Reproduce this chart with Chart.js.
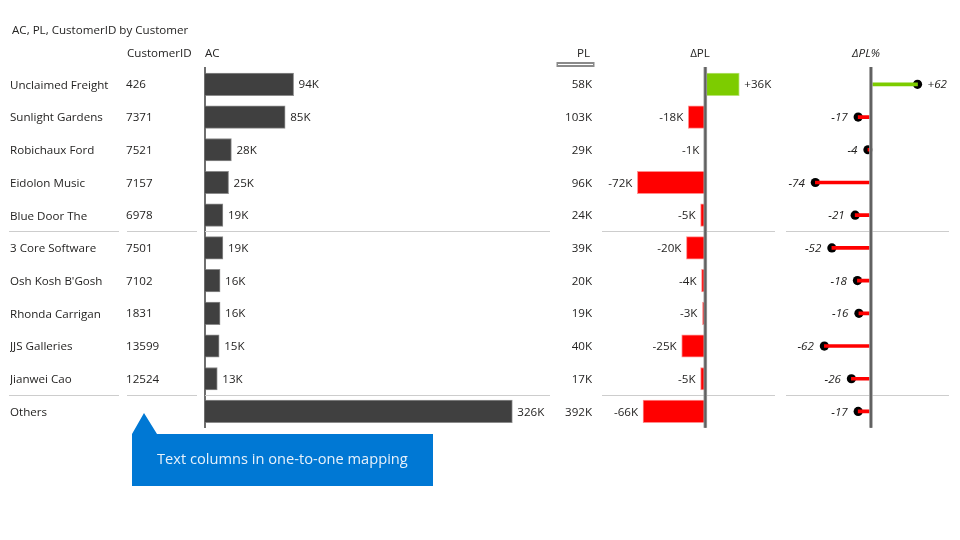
<!DOCTYPE html>
<html><head><meta charset="utf-8">
<style>html,body{margin:0;padding:0;background:#fff}canvas{display:block}</style>
<script src="https://cdn.jsdelivr.net/npm/chart.js@4"></script>
</head><body>
<canvas id="c" width="960" height="540"></canvas>
<script>
const customers = ["Unclaimed Freight","Sunlight Gardens","Robichaux Ford","Eidolon Music","Blue Door The","3 Core Software","Osh Kosh B'Gosh","Rhonda Carrigan","JJS Galleries","Jianwei Cao","Others"];
const customerIds = ["426","7371","7521","7157","6978","7501","7102","1831","13599","12524",""];
const ac = [94,85,28,25,19,19,16,16,15,13,326];
const pl = [58,103,29,96,24,39,20,19,40,17,392];
const deltaPl = [36,-18,-1,-72,-5,-20,-4,-3,-25,-5,-66];
const deltaPct = [62,-17,-4,-74,-21,-52,-18,-16,-62,-26,-17];

const FONT = '"Open Sans"';
const TEXT = '#252423';
const GREEN = '#7dcc00', RED = '#ff0000';
const signColor = a => a.map(v => v >= 0 ? GREEN : RED);
const signBorder = a => a.map(v => v >= 0 ? 'rgba(125,204,0,.55)' : 'rgba(255,0,0,.45)');
const fs = 11.6;
const TY = 0.8;

const overlay = {
  id: 'overlay',
  beforeDatasetsDraw(ch) {
    const c = ch.ctx, y = ch.scales.y;
    c.save();
    c.strokeStyle = '#cdcdcd'; c.lineWidth = 1;
    [4, 9].forEach(i => {
      const py = Math.floor((y.getPixelForValue(i) + y.getPixelForValue(i + 1)) / 2) + .5;
      [[9,119],[127,197],[205,550],[602,704],[706,775],[786,870],[872,949]].forEach(([a,b]) => {
        c.beginPath(); c.moveTo(a, py); c.lineTo(b, py); c.stroke();
      });
    });
    c.restore();
  },
  afterDatasetsDraw(ch) {
    const c = ch.ctx, y = ch.scales.y, xA = ch.scales.xAC, xD = ch.scales.xDelta, xP = ch.scales.xPct;
    const top = ch.chartArea.top - 1, bot = ch.chartArea.bottom;
    c.save();
    [xD.getPixelForValue(0), xP.getPixelForValue(0)].forEach(x => {
      c.fillStyle = '#a0a0a0'; c.fillRect(x - 1.8, top, 3.6, bot - top);
      c.fillStyle = '#606060'; c.fillRect(x - 1, top, 2, bot - top);
    });
    c.fillStyle = TEXT; c.textBaseline = 'middle';
    c.font = `${fs}px ${FONT}`;
    customers.forEach((_, i) => {
      const py = y.getPixelForValue(i) + TY;
      c.textAlign = 'left';
      c.fillText(customerIds[i], 126, py);
      c.fillText(ac[i] + 'K', xA.getPixelForValue(ac[i]) + 5, py);
      c.textAlign = 'right';
      c.fillText(pl[i] + 'K', 592, py);
      const d = deltaPl[i], dx = xD.getPixelForValue(d);
      if (d >= 0) { c.textAlign = 'left'; c.fillText('+' + d + 'K', dx + 5, py); }
      else { c.textAlign = 'right'; c.fillText(d + 'K', dx - 5, py); }
    });
    c.font = `italic ${fs}px ${FONT}`;
    customers.forEach((_, i) => {
      const py = y.getPixelForValue(i) + TY, p = deltaPct[i], px = xP.getPixelForValue(p);
      if (p >= 0) { c.textAlign = 'left'; c.fillText('+' + p, px + 10, py); }
      else { c.textAlign = 'right'; c.fillText(String(p), px - 10.5, py); }
    });
    c.font = `${fs}px ${FONT}`;
    c.textAlign = 'left';
    c.fillText('AC, PL, CustomerID by Customer', 12, 31);
    c.fillText('CustomerID', 127, 53.5);
    c.fillText('AC', 205, 53.5);
    c.textAlign = 'right'; c.fillText('PL', 590, 53.5);
    c.textAlign = 'center'; c.fillText('\u0394PL', 700, 53.5);
    c.font = `italic ${fs}px ${FONT}`;
    c.fillText('\u0394PL%', 866, 53.5);
    c.strokeStyle = '#8a8a8a'; c.lineWidth = 2; c.strokeRect(557.5, 63, 36, 3);
    c.fillStyle = '#0078d4';
    c.beginPath(); c.moveTo(132,434); c.lineTo(144,413); c.lineTo(157,434); c.lineTo(433,434);
    c.lineTo(433,486); c.lineTo(132,486); c.closePath(); c.fill();
    c.fillStyle = '#e6f1fb'; c.textAlign = 'left';
    c.font = `14.65px ${FONT}`;
    c.fillText('Text columns in one-to-one mapping', 157, 460);
    c.restore();
  }
};

new Chart(document.getElementById('c'), {
  data: {
    labels: customers,
    datasets: [
      { type:'bar', data: ac, xAxisID:'xAC', backgroundColor:'#404040', borderColor:'rgba(110,110,110,.8)', borderWidth:1, barThickness:22.5, grouped:false },
      { type:'bar', data: deltaPl, xAxisID:'xDelta', backgroundColor: signColor(deltaPl), borderColor: signBorder(deltaPl), borderWidth:1, barThickness:22.5, grouped:false },
      { type:'bar', data: deltaPct, xAxisID:'xPct', backgroundColor: signColor(deltaPct), borderWidth:0, barThickness:3, grouped:false, order:1 },
      { type:'line', data: deltaPct, xAxisID:'xPct', showLine:false, pointRadius:4.6, pointBackgroundColor:'#000', pointBorderWidth:0, order:2 }
    ]
  },
  plugins: [overlay],
  options: {
    indexAxis: 'y',
    responsive: false,
    animation: false,
    layout: { padding: { left: 10, top: 68.0, bottom: 112.2, right: 0 } },
    plugins: { legend: { display:false }, tooltip: { enabled:false } },
    scales: {
      y: {
        type:'category', offset:true, position:'left',
        grid:{ display:false, drawTicks:false },
        border:{ display:true, color:'#6e6e6e', width:2 },
        afterFit(s){ s.width = 195; },
        ticks:{ autoSkip:false, crossAlign:'far', color:TEXT, padding:0, labelOffset:1, font:{ family:'Open Sans', size:fs } }
      },
      xAC: { type:'linear', display:false, min:0, max:796 },
      xDelta: { type:'linear', display:false, min:-530.3, max:265.1 },
      xPct: { type:'linear', display:false, min:-886.3, max:112.4 }
    }
  }
});
</script>
</body></html>
